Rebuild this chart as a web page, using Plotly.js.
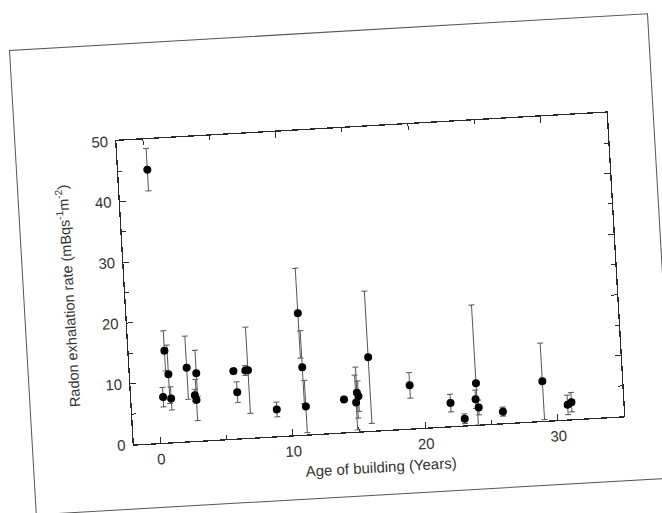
<!DOCTYPE html>
<html>
<head>
<meta charset="utf-8">
<script src="https://cdn.plot.ly/plotly-3.0.1.min.js"></script>
<style>
  html, body { margin: 0; padding: 0; background: #ffffff; width: 662px; height: 513px; overflow: hidden; }
  #frame {
    position: absolute; left: 9px; top: 50px; width: 640px; height: 466px;
    border: 1px solid #555; box-sizing: border-box;
    transform: rotate(-3.3deg); transform-origin: 0 0;
  }
  #chart { position: absolute; left: -1px; top: -1px; width: 640px; height: 466px; }
</style>
</head>
<body>
<div id="frame"><div id="chart"></div></div>
<script>
// Age of building (years)
const ages = [0.2, 0.7, 0.9, 0.4, 1.0, 2.3, 3.0, 2.8, 2.9, 5.8, 6.0, 6.7, 6.9, 8.9,
              10.9, 11.0, 11.1, 14.0, 15.0, 15.1, 14.9, 16.0, 19.0, 22.0, 23.0, 24.0,
              23.9, 24.1, 25.9, 29.0, 30.8, 31.1];
// Radon exhalation rate (mBq s^-1 m^-2)
const rates = [45.0, 15.1, 11.2, 7.5, 7.2, 12.1, 11.1, 7.5, 6.7, 11.1, 7.6, 11.1, 11.1, 4.4,
               20.0, 11.1, 4.6, 5.4, 6.4, 5.8, 4.8, 12.1, 7.1, 3.8, 1.1, 6.8,
               4.2, 2.8, 1.9, 6.5, 2.4, 2.8];
// error bars (upper, lower)
const errPlus = [3.5, 3.3, 4.8, 1.6, 1.9, 5.2, 3.8, 1.0, 3.4, 0.4, 1.7, 0.8, 7.1, 1.2,
                 7.4, 6.0, 4.3, 0.4, 4.2, 2.5, 4.5, 10.9, 2.1, 1.45, 0.8, 12.9,
                 1.5, 1.2, 0.75, 6.3, 1.6, 1.6];
const errMinus = [3.5, 3.3, 4.8, 1.6, 1.9, 5.2, 3.8, 1.0, 3.4, 0.4, 1.7, 0.8, 7.1, 1.2,
                  7.4, 6.0, 4.3, 0.4, 4.2, 2.5, 4.5, 10.9, 2.1, 1.45, 0.8, 6.8,
                  1.5, 1.2, 0.75, 6.3, 1.6, 1.6];
const xTicks = [0, 10, 20, 30];
const yTicks = [0, 10, 20, 30, 40, 50];

const font = "Liberation Sans, Arial, sans-serif";
const ink = "#2a2a2a";

const trace = {
  x: ages, y: rates, type: "scatter", mode: "markers",
  marker: { color: "#000", size: 8 },
  error_y: { type: "data", symmetric: false, array: errPlus, arrayminus: errMinus,
             color: "#555", thickness: 1, width: 3 },
  hoverinfo: "x+y"
};

const axisCommon = {
  showline: true, linecolor: ink, linewidth: 1.3, mirror: "ticks",
  ticks: "inside", ticklen: 6, tickcolor: ink, tickwidth: 1,
  showgrid: false, zeroline: false,
  tickfont: { family: font, size: 15, color: "#333" },
  minor: { ticks: "inside", ticklen: 4, tickcolor: ink, dtick: 5, showgrid: false }
};

const layout = {
  width: 640, height: 466, autosize: false,
  margin: { l: 102, r: 47, t: 97, b: 65 },
  paper_bgcolor: "rgba(0,0,0,0)", plot_bgcolor: "rgba(0,0,0,0)",
  showlegend: false,
  xaxis: Object.assign({}, axisCommon, {
    range: [-2, 35], tickmode: "array", tickvals: xTicks, ticktext: xTicks.map(String),
    ticklabelstandoff: 2,
    title: { text: "Age of building (Years)", font: { family: font, size: 15, color: "#333" }, standoff: 8 }
  }),
  yaxis: Object.assign({}, axisCommon, {
    range: [0, 50], tickmode: "array", tickvals: yTicks, ticktext: yTicks.map(String),
    ticklabelstandoff: 4,
    title: { text: "Radon exhalation rate (mBqs<sup>-1</sup>m<sup>-2</sup>)", font: { family: font, size: 14.5, color: "#333" }, standoff: 22 }
  })
};

Plotly.newPlot("chart", [trace], layout, { displayModeBar: false, staticPlot: true });
</script>
</body>
</html>
